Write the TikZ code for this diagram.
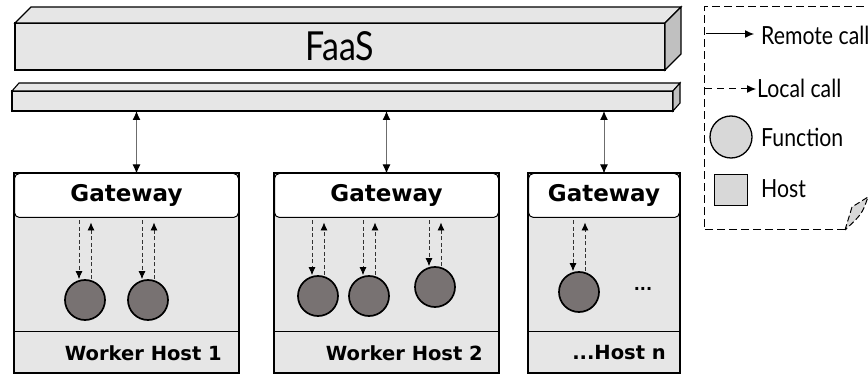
\documentclass[tikz,border=0pt]{standalone}
\usepackage{fontspec}
\setmainfont{Lato}
\newfontfamily\legfont[FakeStretch=0.85]{Lato}
\newfontfamily\gwfont{DejaVu Sans}
\usetikzlibrary{arrows.meta}

\definecolor{boxgray}{RGB}{230,230,230}
\definecolor{sidegray}{RGB}{192,192,192}
\definecolor{fungray}{RGB}{120,114,114}
\definecolor{leggray}{RGB}{216,216,216}

\begin{document}
\begin{tikzpicture}[x=1pt,y=-1pt,
  slab/.style={draw, line width=1.1pt, fill=boxgray, inner sep=0pt, outer sep=0pt, anchor=north west},
  hostbox/.style={draw, line width=1.3pt, fill=boxgray, inner sep=0pt, outer sep=0pt, anchor=north west},
  gatebox/.style={draw, line width=1pt, fill=white, rounded corners=5pt, inner sep=0pt, outer sep=0pt, anchor=north west, font=\gwfont\bfseries\fontsize{23}{25}\selectfont},
  hostlabel/.style={inner sep=0pt, anchor=east, font=\gwfont\bfseries\fontsize{19.5}{21}\selectfont},
  func/.style={circle, draw, line width=1.7pt, fill=fungray, minimum size=40pt, inner sep=0pt},
  remote/.style={draw=gray!85!black, line width=1pt, {Latex[length=9pt,width=8pt,black]}-{Latex[length=9pt,width=8pt,black]}},
  localcall/.style={draw=black!80, line width=0.8pt, dash pattern=on 4pt off 2.5pt, -{Latex[length=8pt,width=7pt,black]}},
  legtext/.style={inner sep=0pt, anchor=west, font=\legfont\fontsize{25}{27}\selectfont}]
  \useasboundingbox (0,0) rectangle (868,374);

  %Shape: FaaS slab
  \node[slab, minimum width=650pt, minimum height=47pt, font=\legfont\fontsize{40}{42}\selectfont] (faas) at (15,23) {FaaS};
  \draw[line width=1.1pt, fill=boxgray] (faas.north west) -- ++(16,-16) -- ++(650,0) -- (faas.north east) -- cycle;
  \draw[line width=1.1pt, fill=sidegray] (faas.north east) -- ++(16,-16) -- ++(0,47) -- (faas.south east) -- cycle;

  %Shape: thin bar
  \node[slab, minimum width=661pt, minimum height=20pt] (bar) at (12,91) {};
  \draw[line width=1.1pt, fill=boxgray] (bar.north west) -- ++(7,-8) -- ++(661,0) -- (bar.north east) -- cycle;
  \draw[line width=1.1pt, fill=sidegray] (bar.north east) -- ++(7,-8) -- ++(0,20) -- (bar.south east) -- cycle;

  %Shape: hosts
  \node[hostbox, minimum width=225pt, minimum height=200pt] (h1) at (14,173) {};
  \node[hostbox, minimum width=225pt, minimum height=200pt] (h2) at (274,173) {};
  \node[hostbox, minimum width=152pt, minimum height=200pt] (h3) at (528,173) {};
  \draw[line width=1pt] (h1.west |- 0,331) -- (h1.east |- 0,331);
  \draw[line width=1pt] (h2.west |- 0,331) -- (h2.east |- 0,331);
  \draw[line width=1pt] (h3.west |- 0,331) -- (h3.east |- 0,331);

  % Text Node
  \node[gatebox, minimum width=224pt, minimum height=44pt] (gw1) at (14.5,173.5) {Gateway};
  \node[gatebox, minimum width=224pt, minimum height=44pt] (gw2) at (274.5,173.5) {Gateway};
  \node[gatebox, minimum width=151pt, minimum height=44pt] (gw3) at (528.5,173.5) {Gateway};
  % Text Node
  \node[hostlabel] (wh1) at (222,353) {Worker Host 1};
  \node[hostlabel] (wh2) at (483,353) {Worker Host 2};
  \node[hostlabel] (wh3) at (666,353) {...Host n};

  %Straight Lines: remote calls
  \draw[remote] ([xshift=10pt]bar.south -| gw1.north) -- ([xshift=10pt]gw1.north);
  \draw[remote] (bar.south -| gw2.north) -- (gw2.north);
  \draw[remote] (bar.south -| gw3.north) -- (gw3.north);

  %Shape: functions
  \node[func] (f11) at (85,300) {};
  \node[func] (f12) at (148,300) {};
  \node[func] (f21) at (318,296) {};
  \node[func] (f22) at (369,296) {};
  \node[func] (f23) at (435,287) {};
  \node[func] (f31) at (579,292) {};
  \node[inner sep=0pt, font=\gwfont\bfseries\fontsize{16}{18}\selectfont] (dots) at (643,289) {...};

  %Straight Lines: local calls
  \foreach \f/\g in {f11/gw1, f12/gw1, f21/gw2, f22/gw2, f23/gw2, f31/gw3}{
    \draw[localcall] ([xshift=-6pt,yshift=-3pt]\f.north |- \g.south) -- ([xshift=-6pt]\f.north);
    \draw[localcall] ([xshift=6pt]\f.north) -- ([xshift=6pt,yshift=-5pt]\f.north |- \g.south);
  }

  %Shape: legend frame with curl
  \draw[line width=1pt, dash pattern=on 8pt off 4pt] (845,230) -- (704,230) -- (704,7) -- (870,7);
  \draw[line width=1pt, dash pattern=on 6pt off 3pt, fill=leggray] (845,230) -- (852,207) -- (868,197) .. controls (862,214) .. cycle;

  % Text Node
  \coordinate (rc) at (706,34);
  \node[legtext] (rctext) at (761,35) {Remote call};
  \draw[line width=1pt, -{Latex[length=9pt,width=8pt]}] (rc) -- ([xshift=-7pt,yshift=1pt]rctext.west);
  \coordinate (lc) at (705,89);
  \node[legtext] (lctext) at (757,88) {Local call};
  \draw[line width=1pt, dash pattern=on 7pt off 5pt, -{Latex[length=9pt,width=8pt]}] (lc) -- ([xshift=-1pt,yshift=-1pt]lctext.west);
  \node[circle, draw, line width=1.3pt, fill=leggray, minimum size=42pt, inner sep=0pt] (legf) at (731,137) {};
  \node[legtext] (fntext) at (761,137) {Function};
  \node[draw, line width=1.3pt, fill=leggray, minimum width=33pt, minimum height=31pt, inner sep=0pt] (legh) at (731,190) {};
  \node[legtext] (hsttext) at (761,189) {Host};
\end{tikzpicture}
\end{document}
